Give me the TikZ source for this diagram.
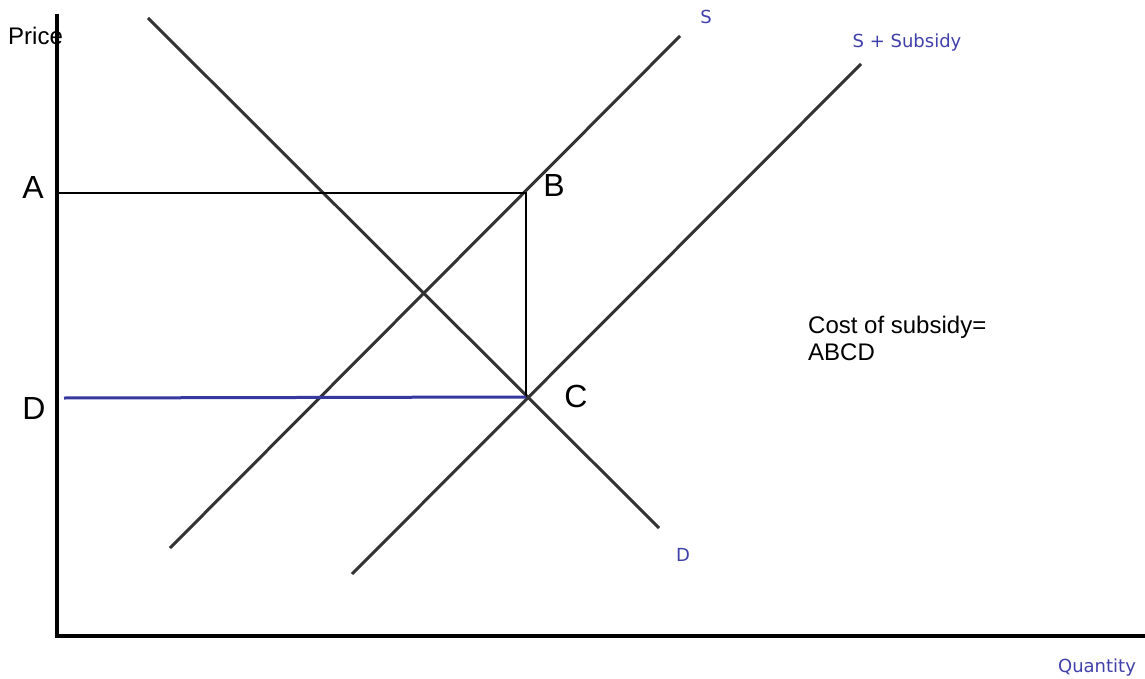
\documentclass[tikz,border=0pt]{standalone}
\usepackage{fontspec}
\setmainfont{Liberation Sans}
\newfontfamily\lblfont{DejaVu Sans}
\definecolor{curve}{RGB}{51,51,51}
\definecolor{lblblue}{RGB}{64,64,170}
\definecolor{lineblue}{RGB}{55,55,160}
\begin{document}
\begin{tikzpicture}[x=1pt,y=-1pt,
  axis/.style={line width=3.6pt,black},
  curveline/.style={line width=3pt,curve},
  thinline/.style={line width=1.5pt,black},
  bigtxt/.style={font=\fontsize{32}{36}\selectfont,inner sep=0pt},
  midtxt/.style={font=\fontsize{24}{28}\selectfont,inner sep=0pt},
  smalltxt/.style={font=\lblfont\fontsize{18}{21}\selectfont,text=lblblue,inner sep=0pt}]
\useasboundingbox (0,0) rectangle (1145,679);
% axes
\coordinate (yTop) at (57,14);
\coordinate (origin) at (57,636);
\coordinate (xEnd) at (1145,636);
\draw[axis] (yTop) -- (57,638);
\draw[axis] (origin) -- (xEnd);
% curves
\coordinate (d1) at (148,18);
\coordinate (d2) at (659,528);
\coordinate (s1) at (170,548);
\coordinate (s2) at (680,36);
\coordinate (ss1) at (352,574);
\coordinate (ss2) at (861,64);
\draw[curveline] (d1) -- (d2);
\draw[curveline] (s1) -- (s2);
\draw[curveline] (ss1) -- (ss2);
% rectangle
\coordinate (pA) at (57,193);
\coordinate (pB) at (526,193);
\coordinate (pC) at (526,397);
\coordinate (pD) at (64,398);
\draw[thinline] (pA) -- (pB) -- (pC);
\draw[line width=3pt,lineblue] (pD) -- (pC);
% labels
\node[midtxt,anchor=base west] (price) at (8,45) {Price};
\node[bigtxt] (lA) at (33,187) {A};
\node[bigtxt] (lB) at (554,185) {B};
\node[bigtxt] (lC) at (576,396) {C};
\node[bigtxt] (lD) at (34,408) {D};
\node[smalltxt] (lS) at (706,17) {S};
\node[smalltxt] (lSS) at (907,43) {S + Subsidy};
\node[smalltxt] (lDem) at (683,555) {D};
\node[smalltxt] (lQ) at (1097,668) {Quantity};
\node[midtxt,anchor=base west] (cost1) at (808,333) {Cost of subsidy=};
\node[midtxt,anchor=base west] (cost2) at (808,360) {ABCD};
\end{tikzpicture}
\end{document}
